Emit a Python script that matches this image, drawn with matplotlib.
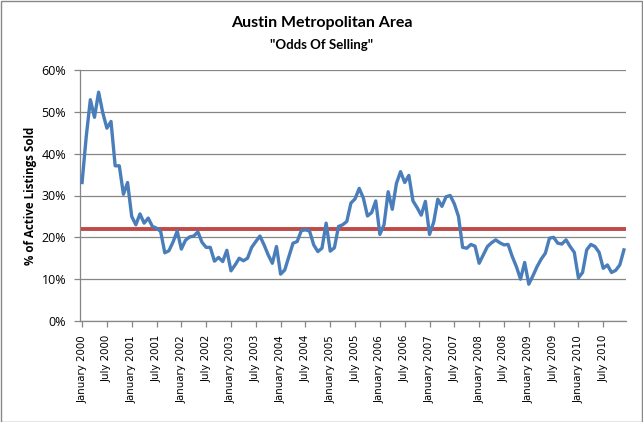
import matplotlib
matplotlib.use("Agg")
import matplotlib.pyplot as plt
from matplotlib.patches import Rectangle

# ---------- Data ----------
# monthly "odds of selling" (% of active listings sold), Jan 2000 .. Dec 2010
odds_2000 = [33.1, 44.0, 52.9, 48.7, 54.7, 49.8, 46.1, 47.7, 37.1, 37.1, 30.3, 33.1]
odds_2001 = [25.0, 23.0, 25.6, 23.4, 24.6, 22.6, 22.2, 21.4, 16.3, 16.8, 18.9, 21.5]
odds_2002 = [17.2, 19.3, 20.1, 20.3, 21.3, 18.8, 17.6, 17.6, 14.3, 15.2, 14.2, 16.9]
odds_2003 = [12.0, 13.4, 15.0, 14.4, 15.0, 17.6, 19.0, 20.3, 18.2, 15.8, 13.8, 17.8]
odds_2004 = [11.2, 12.2, 15.4, 18.6, 19.0, 21.6, 21.8, 21.5, 18.2, 16.6, 17.4, 23.4]
odds_2005 = [16.7, 17.5, 22.6, 23.0, 23.8, 28.2, 29.2, 31.7, 29.4, 25.1, 25.9, 28.7]
odds_2006 = [20.7, 23.0, 30.9, 26.7, 32.9, 35.7, 33.1, 34.8, 28.7, 27.1, 25.3, 28.6]
odds_2007 = [20.7, 23.6, 29.1, 27.4, 29.7, 30.0, 28.0, 25.0, 17.6, 17.4, 18.3, 17.9]
odds_2008 = [13.8, 15.8, 17.8, 18.7, 19.4, 18.7, 18.2, 18.3, 15.4, 13.0, 10.0, 14.0]
odds_2009 = [8.8, 10.8, 13.0, 14.8, 16.2, 19.8, 20.0, 18.6, 18.4, 19.4, 17.8, 16.4]
odds_2010 = [10.3, 11.6, 17.0, 18.3, 17.8, 16.4, 12.6, 13.4, 11.6, 12.1, 13.4, 17.0]
AVERAGE = 22.0

YEARS = list(range(2000, 2011))
MONTHS = ["January", "February", "March", "April", "May", "June", "July",
          "August", "September", "October", "November", "December"]
# --------------------------

odds = (odds_2000 + odds_2001 + odds_2002 + odds_2003 + odds_2004 + odds_2005
        + odds_2006 + odds_2007 + odds_2008 + odds_2009 + odds_2010)
categories = [f"{m} {y}" for y in YEARS for m in MONTHS]
x = list(range(len(odds)))

BLUE = "#4A7EBB"
RED = "#BE4B48"
GRID = "#868686"

fig = plt.figure(figsize=(6.43, 4.22), dpi=100)
ax = fig.add_axes([80 / 643, 1 - 321 / 422, 546 / 643, 251 / 422])

ax.plot(x, odds, color=BLUE, linewidth=2.4, solid_joinstyle="round", zorder=3)
ax.axhline(AVERAGE, color=RED, linewidth=2.8, zorder=2)

ax.set_xlim(-0.5, len(odds) - 0.5)
ax.set_ylim(0, 60)
ax.set_yticks(range(0, 61, 10))
ax.set_yticklabels([f"{v}%" for v in range(0, 61, 10)],
                   fontsize=9, family="Open Sans")
ax.yaxis.grid(True, color=GRID, linewidth=0.9)
ax.set_axisbelow(True)

tick_pos = x[::6]
ax.set_xticks(tick_pos)
ax.set_xticklabels([categories[i] for i in tick_pos], rotation=90,
                   fontsize=7.4, family="DejaVu Sans")

for side in ("top", "right"):
    ax.spines[side].set_visible(False)
for side in ("left", "bottom"):
    ax.spines[side].set_color(GRID)
    ax.spines[side].set_linewidth(0.9)
ax.tick_params(axis="both", color=GRID, length=4, width=0.9)
ax.tick_params(axis="y", pad=6)
ax.tick_params(axis="x", pad=6)

ax.set_ylabel("% of Active Listings Sold", fontsize=8.3, fontweight="bold",
              family="Open Sans", labelpad=3)

fig.text(0.5, 1 - 23 / 422, "Austin Metropolitan Area", ha="center", va="center",
         fontsize=11.5, fontweight="bold", family="Lato")
fig.text(0.5, 1 - 45 / 422, '"Odds Of Selling"', ha="center", va="center",
         fontsize=9.5, fontweight="bold", family="Lato")

# chart border
fig.patches.append(Rectangle((0.001, 0.001), 0.997, 0.997, transform=fig.transFigure,
                             fill=False, edgecolor="#878787", linewidth=1))

fig.savefig("out.png", dpi=100)
